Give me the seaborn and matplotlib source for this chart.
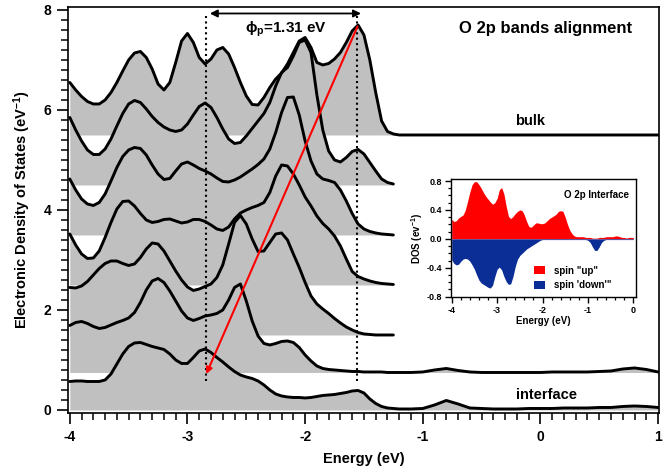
import numpy as np
import matplotlib
matplotlib.use('Agg')
import matplotlib.pyplot as plt
import seaborn as sns
from matplotlib.patches import Patch
from matplotlib.ticker import MultipleLocator

# energy grids (eV)
energy_core = np.round(np.arange(-4.0, -1.2499, 0.05), 2)   # -4.00 .. -1.25
energy_tail = np.round(np.arange(-1.2, 1.0001, 0.1), 2)     # -1.2 .. 1.0
energy_full = np.concatenate([energy_core, energy_tail])
inset_energy = np.round(np.arange(-4.0, 0.0001, 0.05), 2)   # -4.00 .. 0.00

# layer DOS curves, already offset (bulk on top, interface at bottom)
bulk = [6.55, 6.40, 6.27, 6.17, 6.12, 6.12, 6.20, 6.35, 6.55, 6.78,
        7.00, 7.14, 7.17, 7.05, 6.82, 6.52, 6.40, 6.55, 6.95, 7.38,
        7.53, 7.35, 7.05, 6.92, 7.02, 7.20, 7.25, 7.12, 6.85, 6.55,
        6.28, 6.11, 6.10, 6.25, 6.45, 6.62, 6.74, 6.92, 7.15, 7.38,
        7.45, 7.25, 6.95, 6.90, 6.93, 7.02, 7.15, 7.35, 7.58, 7.70,
        7.50, 7.00, 6.35, 5.78, 5.57, 5.52,
        5.50, 5.50, 5.50, 5.50, 5.50, 5.50, 5.50, 5.50, 5.50, 5.50,
        5.50, 5.50, 5.50, 5.50, 5.50, 5.50, 5.50, 5.50, 5.50, 5.50,
        5.50, 5.50, 5.50]
layer2 = [5.85, 5.60, 5.38, 5.20, 5.11, 5.11, 5.22, 5.42, 5.68, 5.93,
          6.12, 6.19, 6.15, 6.02, 5.87, 5.75, 5.66, 5.60, 5.57, 5.60,
          5.72, 5.90, 6.07, 6.14, 6.05, 5.85, 5.62, 5.42, 5.33, 5.35,
          5.48, 5.63, 5.78, 5.93, 6.15, 6.48, 6.75, 6.85, 7.08, 7.35,
          7.40, 7.15, 6.30, 5.60, 5.18, 5.00, 4.96, 5.05, 5.17, 5.21,
          5.12, 4.95, 4.78, 4.62, 4.55, 4.52]
layer3 = [4.62, 4.40, 4.22, 4.12, 4.09, 4.15, 4.32, 4.58, 4.85, 5.07,
          5.20, 5.25, 5.23, 5.10, 4.90, 4.72, 4.61, 4.63, 4.78, 4.92,
          4.96, 4.90, 4.83, 4.78, 4.72, 4.64, 4.57, 4.56, 4.60, 4.66,
          4.74, 4.82, 4.91, 5.02, 5.22, 5.55, 5.95, 6.25, 6.26, 5.90,
          5.38, 4.98, 4.72, 4.62, 4.59, 4.55, 4.40, 4.18, 3.93, 3.72,
          3.62, 3.57, 3.54, 3.52, 3.51, 3.50]
layer4 = [3.52, 3.30, 3.12, 3.03, 3.04, 3.18, 3.45, 3.75, 4.02, 4.17,
          4.18, 4.08, 3.93, 3.80, 3.75, 3.77, 3.81, 3.82, 3.78, 3.74,
          3.76, 3.81, 3.81, 3.77, 3.70, 3.62, 3.59, 3.66, 3.82, 3.94,
          4.00, 4.05, 4.09, 4.15, 4.35, 4.68, 4.90, 4.88, 4.72, 4.50,
          4.26, 4.08, 3.88, 3.73, 3.62, 3.48, 3.28, 3.02, 2.77, 2.67,
          2.62, 2.58, 2.55, 2.53, 2.52, 2.51]
layer5 = [2.45, 2.44, 2.48, 2.57, 2.70, 2.83, 2.93, 2.98, 2.98, 2.93,
          2.89, 2.92, 3.05, 3.22, 3.34, 3.32, 3.18, 2.98, 2.78, 2.60,
          2.46, 2.39, 2.42, 2.47, 2.52, 2.65, 2.90, 3.32, 3.75, 3.89,
          3.72, 3.42, 3.17, 3.18, 3.35, 3.52, 3.54, 3.40, 3.12, 2.85,
          2.55, 2.28, 2.12, 2.02, 1.93, 1.83, 1.74, 1.66, 1.60, 1.55,
          1.52, 1.51, 1.50, 1.50, 1.50, 1.50]
layer6 = [1.69, 1.75, 1.77, 1.73, 1.67, 1.63, 1.65, 1.70, 1.75, 1.79,
          1.84, 1.95, 2.15, 2.40, 2.58, 2.63, 2.55, 2.38, 2.18, 1.98,
          1.84, 1.79, 1.83, 1.88, 1.90, 1.93, 2.00, 2.20, 2.45, 2.52,
          2.18, 1.78, 1.48, 1.33, 1.30, 1.33, 1.37, 1.38, 1.35, 1.25,
          1.10, 0.98, 0.88, 0.83, 0.81, 0.80, 0.79, 0.78, 0.77, 0.77,
          0.76, 0.76, 0.76, 0.76, 0.75, 0.75,
          0.75, 0.75, 0.76, 0.80, 0.83, 0.79, 0.76, 0.75, 0.75, 0.75,
          0.75, 0.75, 0.75, 0.76, 0.76, 0.76, 0.76, 0.77, 0.78, 0.82,
          0.84, 0.81, 0.76]
interface = [0.57, 0.58, 0.58, 0.57, 0.57, 0.57, 0.60, 0.72, 0.92, 1.12,
             1.27, 1.34, 1.35, 1.31, 1.27, 1.24, 1.21, 1.12, 1.00, 0.93,
             0.93, 1.05, 1.18, 1.22, 1.15, 1.05, 0.96, 0.86, 0.77, 0.70,
             0.66, 0.63, 0.58, 0.50, 0.40, 0.32, 0.28, 0.26, 0.25, 0.25,
             0.24, 0.25, 0.27, 0.29, 0.30, 0.31, 0.33, 0.35, 0.38, 0.39,
             0.34, 0.22, 0.13, 0.07, 0.04, 0.03,
             0.02, 0.02, 0.03, 0.10, 0.19, 0.12, 0.04, 0.03, 0.02, 0.02,
             0.02, 0.03, 0.03, 0.03, 0.04, 0.04, 0.04, 0.05, 0.05, 0.07,
             0.08, 0.07, 0.05]
baselines = [5.5, 4.5, 3.5, 2.5, 1.5, 0.75, 0.0]

# inset: O 2p interface spin-resolved DOS
spin_up = [0.27, 0.24, 0.25, 0.29, 0.31, 0.33, 0.40, 0.52, 0.65, 0.75,
           0.79, 0.79, 0.75, 0.70, 0.64, 0.59, 0.55, 0.51, 0.48, 0.50,
           0.56, 0.68, 0.71, 0.62, 0.45, 0.31, 0.28, 0.31, 0.35, 0.38,
           0.40, 0.39, 0.33, 0.24, 0.17, 0.16, 0.19, 0.22, 0.22, 0.21,
           0.21, 0.22, 0.25, 0.28, 0.30, 0.32, 0.34, 0.38, 0.39, 0.38,
           0.30, 0.20, 0.12, 0.07, 0.04, 0.03, 0.03, 0.03, 0.03, 0.02,
           0.02, 0.02, 0.01, 0.01, 0.01, 0.02, 0.02, 0.02, 0.03, 0.03,
           0.03, 0.03, 0.04, 0.04, 0.03, 0.02, 0.02, 0.01, 0.02, 0.02,
           0.02]
spin_down = [-0.29, -0.34, -0.36, -0.35, -0.31, -0.28, -0.27, -0.28, -0.31, -0.36,
             -0.42, -0.50, -0.57, -0.61, -0.63, -0.65, -0.67, -0.68, -0.64, -0.52,
             -0.42, -0.39, -0.43, -0.52, -0.59, -0.63, -0.62, -0.52, -0.38, -0.28,
             -0.23, -0.20, -0.17, -0.14, -0.12, -0.10, -0.08, -0.06, -0.04, -0.02,
             -0.01, -0.01, -0.01, -0.01, -0.01, -0.01, -0.01, -0.01, -0.01, -0.01,
             -0.01, -0.01, -0.01, -0.01, -0.01, -0.01, -0.01, -0.01, -0.01, -0.01,
             -0.02, -0.05, -0.11, -0.16, -0.16, -0.11, -0.05, -0.02, -0.01, -0.01,
             -0.01, -0.01, -0.01, -0.01, -0.01, -0.01, -0.01, -0.01, -0.01, -0.01,
             -0.01]

peak_interface = -2.84
peak_bulk = -1.555

sns.set_theme(style='ticks')
plt.rcParams['font.family'] = ['Liberation Sans', 'DejaVu Sans']
plt.rcParams['font.weight'] = 'bold'
plt.rcParams['axes.unicode_minus'] = False
plt.rcParams['mathtext.fontset'] = 'custom'
plt.rcParams['mathtext.rm'] = 'Liberation Sans:bold'
plt.rcParams['mathtext.bf'] = 'Liberation Sans:bold'
plt.rcParams['mathtext.it'] = 'Liberation Sans:bold:italic'
plt.rcParams['text.color'] = 'black'
plt.rcParams['axes.labelcolor'] = 'black'
plt.rcParams['xtick.color'] = 'black'
plt.rcParams['ytick.color'] = 'black'

fig = plt.figure(figsize=(6.72, 4.74), dpi=100)
ax = fig.add_axes([0.1016, 0.1281, 0.8791, 0.8578])

curves = [
    (energy_full, bulk),
    (energy_core, layer2),
    (energy_core, layer3),
    (energy_core, layer4),
    (energy_core, layer5),
    (energy_full, layer6),
    (energy_full, interface),
]

for (x, y), base in zip(curves, baselines):
    ax.fill_between(x, base, y, color='#c0c0c0', lw=0, zorder=1)
for x, y in curves:
    sns.lineplot(x=x, y=y, ax=ax, color='black', lw=2.1, sort=False,
                 estimator=None, zorder=3, solid_joinstyle='round',
                 solid_capstyle='round')

# peak positions and shift
ax.vlines([peak_interface, peak_bulk], 0.57, 7.93, colors='black',
          linestyles=(0, (1, 1.6)), lw=1.5, zorder=4)
ax.annotate('', xy=(peak_bulk + 0.03, 7.93), xytext=(peak_interface + 0.03, 7.93),
            arrowprops=dict(arrowstyle='<|-|>', color='black', lw=1.3,
                            mutation_scale=11, shrinkA=0, shrinkB=0), zorder=5)
ax.annotate('', xy=(peak_interface, 0.72), xytext=(peak_bulk, 7.67),
            arrowprops=dict(arrowstyle='-|>', color='red', lw=1.5,
                            mutation_scale=9, shrinkA=0, shrinkB=0), zorder=5)

ax.text(-2.16, 7.62, 'ϕ$_\\mathrm{p}$=1.31 eV', fontsize=11, fontweight='bold',
        ha='center', va='center', zorder=6)
ax.text(0.04, 7.62, 'O 2p bands alignment', fontsize=12, fontweight='bold',
        ha='center', va='center')
ax.text(-0.09, 5.78, 'bulk', fontsize=10.5, fontweight='bold', ha='center', va='center')
ax.text(0.05, 0.30, 'interface', fontsize=10.5, fontweight='bold', ha='center', va='center')

ax.set_xlim(-4.013, 1.008)
ax.set_ylim(-0.066, 8.066)
ax.set_xticks(range(-4, 2))
ax.set_yticks([0, 2, 4, 6, 8])
ax.xaxis.set_minor_locator(MultipleLocator(0.1))
ax.yaxis.set_minor_locator(MultipleLocator(0.2))
ax.tick_params(which='major', direction='out', length=8, width=1.2, labelsize=10, pad=4)
ax.tick_params(which='minor', direction='out', length=4.8, width=1.1)
for s in ax.spines.values():
    s.set_color('black')
    s.set_linewidth(1.2)
ax.set_xlabel('Energy (eV)', fontsize=10.5, fontweight='bold', labelpad=6)
ax.set_ylabel('Electronic Density of States (eV$^{-1}$)', fontsize=10.5,
              fontweight='bold', labelpad=8)

# inset
axin = fig.add_axes([0.6707, 0.3728, 0.2757, 0.2496])
axin.set_facecolor('white')
axin.fill_between(inset_energy, 0, spin_up, color='#ff0000', lw=0)
axin.fill_between(inset_energy, spin_down, 0, color='#0a2d96', lw=0)
axin.set_xlim(-4.022, 0.059)
axin.set_ylim(-0.808, 0.828)
axin.set_xticks(range(-4, 1))
axin.set_yticks([-0.8, -0.4, 0.0, 0.4, 0.8])
axin.set_yticklabels(['-0.8', '-0.4', '0.0', '0.4', '0.8'])
axin.xaxis.set_minor_locator(MultipleLocator(0.2))
axin.yaxis.set_minor_locator(MultipleLocator(0.1))
axin.tick_params(which='major', direction='out', length=4, width=1.0, labelsize=6.5, pad=2)
axin.tick_params(which='minor', direction='out', length=2.5, width=0.9)
for s in axin.spines.values():
    s.set_color('black')
    s.set_linewidth(1.0)
axin.set_xlabel('Energy (eV)', fontsize=7, fontweight='bold', labelpad=1)
axin.set_ylabel('DOS (ev$^{-1}$)', fontsize=7, fontweight='bold', labelpad=1)
axin.text(0.965, 0.865, 'O 2p Interface', transform=axin.transAxes, fontsize=7,
          fontweight='bold', ha='right', va='center')
handles = [Patch(color='#ff0000', lw=0), Patch(color='#0a2d96', lw=0)]
axin.legend(handles, ['spin "up"', "spin 'down'\""], loc='lower left',
            bbox_to_anchor=(0.45, 0.06), frameon=False,
            handlelength=1.1, handleheight=0.9, handletextpad=0.9,
            labelspacing=0.45, borderpad=0, borderaxespad=0,
            prop={'weight': 'bold', 'size': 7})

fig.savefig('out.png', dpi=100)
